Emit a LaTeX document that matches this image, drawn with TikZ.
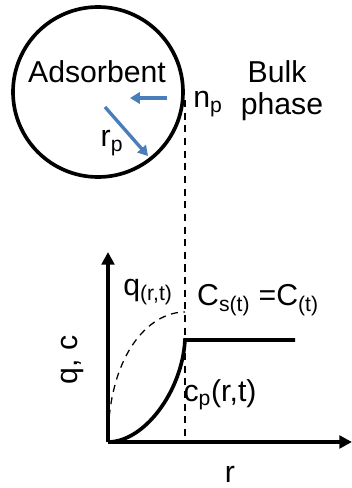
\documentclass[tikz,border=0pt]{standalone}
\usepackage{fontspec}
\setmainfont{Liberation Sans}
\usetikzlibrary{arrows.meta, positioning, calc}
\definecolor{arrblue}{RGB}{74,126,187}

\begin{document}
\begin{tikzpicture}[
  lbl/.style={inner sep=0pt, font=\fontsize{21.5}{24}\selectfont},
  blk/.style={line width=2.6pt},
  bluearr/.style={draw=arrblue, line width=2.4pt, -{Triangle[length=7pt, width=8pt]}},
  axarr/.style={line width=2.4pt, -{Triangle[length=9pt, width=9pt]}},
  dsh/.style={dashed, line width=0.9pt, dash pattern=on 5pt off 4pt}
]

%% 固定邊界
\useasboundingbox (0,0) rectangle (8.8,12.2);

%% 吸附劑顆粒
\node[draw, circle, line width=2.6pt, minimum size=4.25cm] (part) at (2.45, 9.9) {};
\node[lbl] (ads)  at (2.425, 10.4) {Adsorbent};
\node[lbl] (bulk) at (6.925, 10.4) {Bulk};
\node[lbl] (phs)  at (7.05, 9.525) {phase};
\node[lbl] (np)   at (5.2, 9.6)  {n\textsubscript{p}};
\node[lbl] (rp)   at (2.8, 8.625) {r\textsubscript{p}};

\coordinate (hin)  at (4.175, 9.75);
\coordinate (hout) at (3.25, 9.75);
\coordinate (rin)  at (2.625, 9.525);
\coordinate (rout) at (3.7, 8.3);
\draw[bluearr] (hin) -- (hout);
\draw[bluearr] (rin) -- (rout);

%% 座標軸
\coordinate (O)    at (2.7, 1.15);
\coordinate (ytop) at (2.7, 5.9);
\coordinate (xend) at (8.8, 1.15);
\coordinate (surf) at (4.625, 9.7);
\coordinate (base) at (4.625, 1.15);
\coordinate (knee) at (4.625, 3.7);
\coordinate (flat) at (7.375, 3.7);
\coordinate (qtop) at (4.625, 4.4);

\draw[dsh] (surf) -- (base);
\draw[axarr] (O) -- (ytop);
\draw[axarr] (O) -- (xend);

%% 濃度分布
\draw[dsh] (O) .. controls (2.7, 3.3) and (3.7, 4.4) .. (qtop);
\draw[blk] (O) .. controls (3.6, 1.15) and (4.55, 2.4) .. (knee) -- (flat);

\node[lbl] (ql) at (3.7, 4.9)  {q\textsubscript{(r,t)}};
\node[lbl] (cs) at (6.45, 4.7) {C\textsubscript{s(t)} =C\textsubscript{(t)}};
\node[lbl] (cp) at (5.5, 2.325) {c\textsubscript{p}(r,t)};
\node[lbl, rotate=90] (yl) at (1.825, 3.2) {q, c};
\node[lbl] (xl) at (5.75, 0.35) {r};

\end{tikzpicture}
\end{document}
